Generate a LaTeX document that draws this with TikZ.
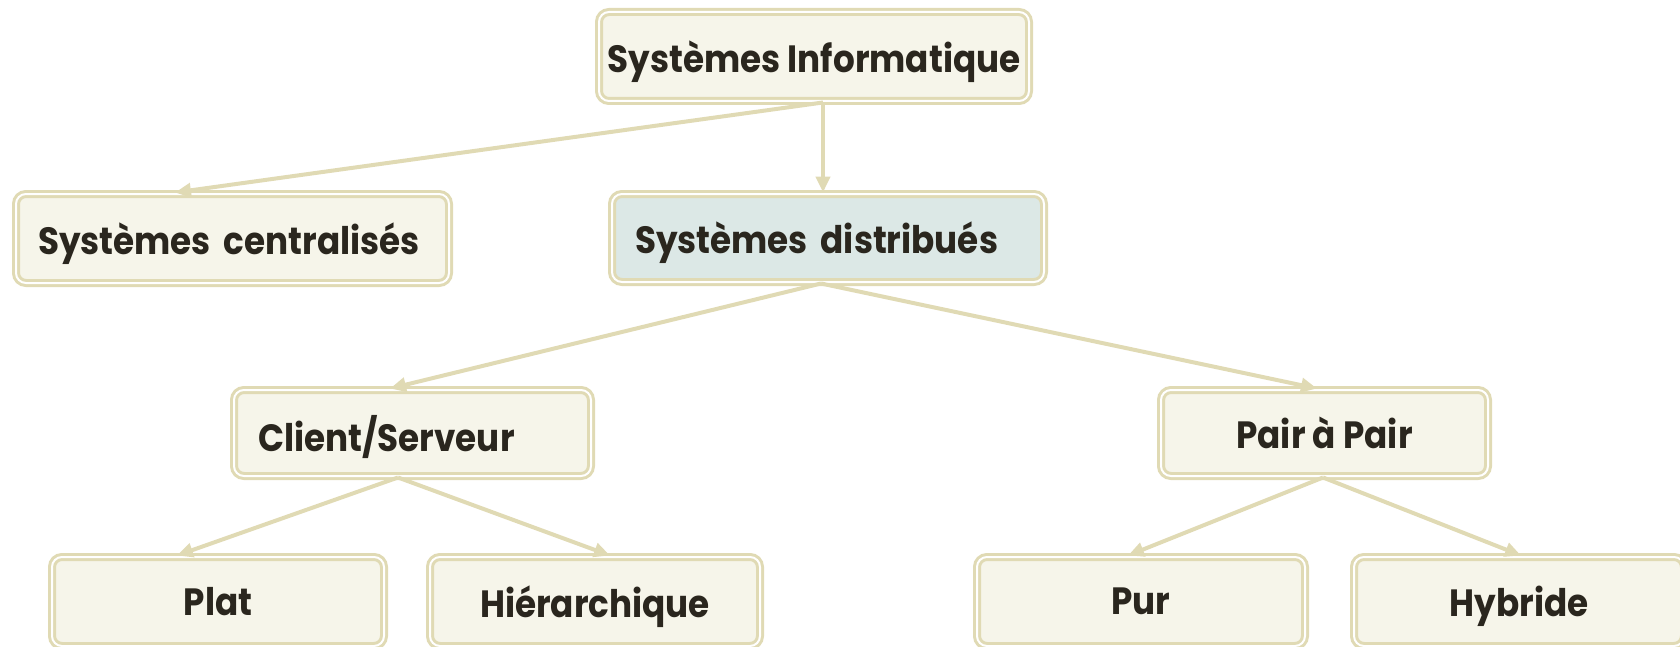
\documentclass[tikz,border=0pt]{standalone}
\usepackage{fontspec}
\newfontfamily\boxfont{Poppins}[FakeStretch=0.9]
\usetikzlibrary{arrows.meta}
\definecolor{bord}{RGB}{224,218,180}
\definecolor{cream}{RGB}{246,245,234}
\definecolor{bluish}{RGB}{220,232,230}
\definecolor{ink}{RGB}{42,38,30}
\begin{document}
\begin{tikzpicture}[x=0.5pt,y=-0.5pt,
  box/.style 2 args={draw=bord, line width=1.5pt, double=white, double distance=1pt,
    rounded corners=5pt, fill=cream, inner sep=0pt, text depth=0pt,
    minimum width={(#1-8)*0.5pt}, minimum height={(#2-8)*0.5pt},
    font=\boxfont\bfseries\fontsize{19}{22}\selectfont, text=ink},
  lbox/.style={text width={#1*0.5pt}, align=left},
  conn/.style={draw=bord, line width=2pt, -{Triangle[length=8pt,width=7pt]}}]
\useasboundingbox (0,0) rectangle (1680,647);
\clip (0,0) rectangle (1680,647);
\node[box={438}{97}] (top) at (814,56.5) {Systèmes Informatique};
\node[box={441}{97}, lbox=389] (cent) at (232.5,238.5) {Systèmes centralisés};
\node[box={440}{96}, lbox=386, fill=bluish] (dist) at (828,238) {Systèmes distribués};
\node[box={365}{94}, lbox=309] (cs) at (412.5,433) {Client/Serveur};
\node[box={335}{94}] (pair) at (1324.5,433) {Pair à Pair};
\node[box={340}{97}] (plat) at (218,601.5) {Plat};
\node[box={338}{97}] (hier) at (595,601.5) {Hiérarchique};
\node[box={336}{97}] (pur) at (1141,601.5) {Pur};
\node[box={338}{97}] (hyb) at (1519,601.5) {Hybride};
\draw[conn] ([xshift=4.5pt]top.south) -- ([xshift=-28.75pt]cent.north);
\draw[conn] ([xshift=4.5pt]top.south) -- ([xshift=-2.5pt]dist.north);
\draw[conn] ([xshift=-3.5pt]dist.south) -- ([xshift=-11.25pt]cs.north);
\draw[conn] ([xshift=-3.5pt]dist.south) -- ([xshift=-3.75pt]pair.north);
\draw[conn] ([xshift=-7.25pt]cs.south) -- ([xshift=-20.5pt]plat.north);
\draw[conn] ([xshift=-7.25pt]cs.south) -- ([xshift=7.5pt]hier.north);
\draw[conn] ([xshift=-0.75pt]pair.south) -- ([xshift=-6.5pt]pur.north);
\draw[conn] ([xshift=-0.75pt]pair.south) -- ([xshift=1pt]hyb.north);
\end{tikzpicture}
\end{document}
